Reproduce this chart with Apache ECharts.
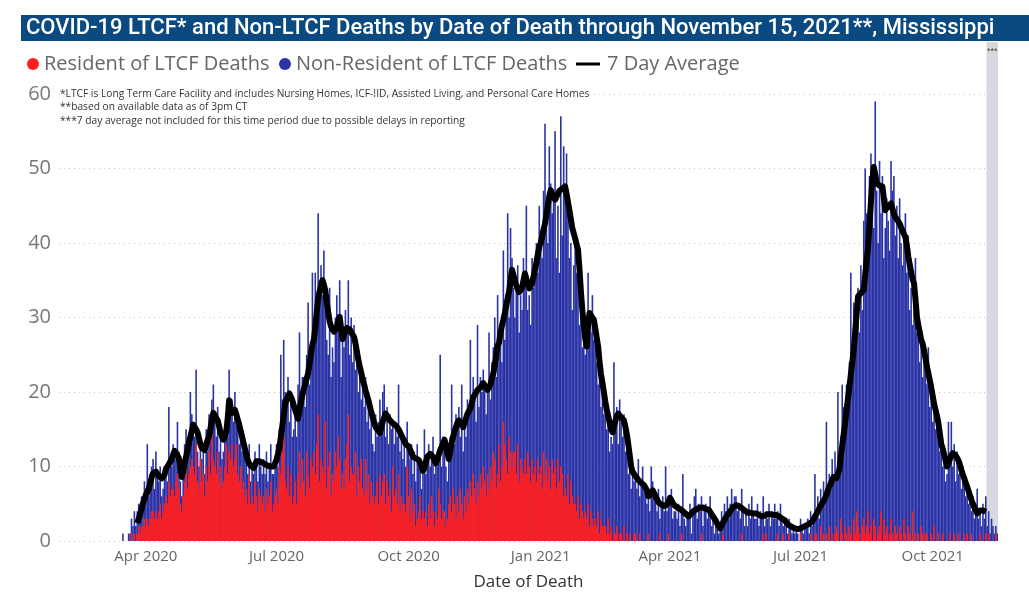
<!DOCTYPE html>
<html>
<head>
<meta charset="utf-8">
<script src="https://cdn.jsdelivr.net/npm/echarts@6/dist/echarts.min.js"></script>
<style>
html, body { margin: 0; padding: 0; background: #fff; }
#chart { width: 1029px; height: 609px; }
</style>
</head>
<body>
<div id="chart"></div>
<script>
// axis runs Feb 1 2020 .. Nov 15 2021, data starts Mar 16 2020
var axisStart = Date.UTC(2020, 1, 1);
var axisDays = 654;
var dataOffset = 44;
var shadeFrom = '2021-11-08', shadeTo = '2021-11-15';
var monthNames = ['Jan','Feb','Mar','Apr','May','Jun','Jul','Aug','Sep','Oct','Nov','Dec'];
var yTicks = [0, 10, 20, 30, 40, 50, 60];

// daily deaths, one row per week (Mon..Sun) from Mar 16 2020
var totalDeaths = [
  1,0,0,0,1,1,3, 2,4,2,4,5,3,6, 5,8,7,13,6,9,10, 11,7,12,9,8,10,6,
  7,9,10,8,18,11,10, 13,12,11,16,12,8,6, 10,13,15,11,14,20,17, 16,14,23,12,10,14,11,
  13,9,15,12,17,14,19, 21,16,14,18,12,15,11, 12,15,17,14,23,18,19, 16,20,17,15,13,16,12,
  14,11,12,9,13,8,10, 9,12,11,8,13,10,9, 11,9,12,8,10,13,9, 9,11,13,10,15,25,19,
  27,20,18,22,16,19,14, 15,17,14,21,28,20,22, 22,18,25,32,21,26,36, 30,36,31,44,35,37,33,
  39,31,27,25,34,22,26, 24,30,33,29,35,22,27, 26,31,28,35,25,30,24, 29,23,27,20,24,19,21,
  18,22,16,20,15,17,13, 12,17,14,16,19,15,20, 21,14,18,13,17,15,16, 13,16,14,21,12,15,11,
  14,10,16,12,11,13,9, 12,8,13,10,11,7,9, 15,9,11,13,10,12,14, 9,11,10,12,25,10,14,
  13,10,8,12,14,21,15, 13,17,15,18,14,21,12, 16,14,19,17,27,18,22, 19,16,29,18,22,20,23,
  21,17,20,28,19,24,26, 30,22,33,26,29,24,39, 27,33,44,30,42,38,34, 30,35,37,28,33,31,38,
  36,45,31,33,29,38,34, 35,40,36,45,41,38,47, 56,42,40,53,48,44,46, 55,38,45,36,57,41,53,
  46,52,44,38,40,31,37, 41,36,39,29,33,26,28, 25,27,36,31,28,33,27, 30,24,21,26,18,22,17,
  19,15,17,12,14,13,24, 15,18,13,19,16,14,17, 12,14,9,11,7,10,8, 9,7,11,6,8,10,7,
  7,5,6,4,10,8,6, 6,4,7,3,5,6,4, 10,4,6,5,7,3,4, 4,3,5,2,4,9,3,
  2,4,3,5,1,4,6, 7,3,5,4,6,2,4, 5,3,4,6,2,3,1, 2,3,1,2,4,3,5,
  4,6,3,5,7,4,6, 6,4,5,3,7,4,2, 4,2,5,3,6,4,3, 3,5,2,4,3,6,2,
  4,3,5,2,4,3,5, 3,4,2,5,3,2,3, 2,1,3,2,1,2,1, 2,1,0,3,2,1,2,
  2,3,1,4,2,3,9, 4,6,3,7,5,8,6, 16,6,9,7,11,8,12, 9,20,12,14,21,18,17,
  21,17,24,36,22,32,27, 30,34,28,37,31,43,50, 44,38,49,52,46,42,59, 47,40,51,44,49,38,42,
  46,43,39,51,47,49,41, 45,38,46,40,37,42,44, 36,41,31,34,29,32,38, 28,31,24,27,22,26,25,
  21,26,18,22,16,19,15, 16,14,12,15,10,11,8, 9,16,11,16,10,13,8, 12,9,11,7,10,8,6,
  8,5,7,4,6,3,5, 7,3,4,2,5,3,6, 2,4,1,3,2,1,2, 1
];

var ltcfDeaths = [
  0,0,0,0,0,0,1, 0,1,0,1,2,1,2, 2,3,2,3,2,3,4, 4,3,4,3,4,5,3,
  4,5,6,5,8,6,7, 7,6,8,9,7,5,4, 6,8,12,7,9,10,11, 10,9,13,8,7,11,8,
  9,6,10,8,12,9,15, 11,10,9,12,8,10,7, 8,10,13,9,12,11,13, 10,11,13,9,8,10,7,
  8,6,7,5,9,5,6, 5,8,6,4,7,6,5, 6,4,7,5,6,8,4, 5,6,7,5,10,9,12,
  14,8,7,10,6,9,5, 6,8,5,9,12,7,11, 8,6,12,9,7,11,10, 12,9,13,17,8,11,10,
  9,16,7,10,12,6,9, 8,12,10,14,11,7,9, 7,11,13,17,8,10,9, 9,12,6,10,8,11,7,
  6,11,7,9,5,8,6, 5,6,8,5,9,6,8, 9,5,8,6,7,4,10, 6,7,5,9,4,6,5,
  5,4,10,6,3,7,4, 5,2,3,4,6,3,4, 3,4,2,5,3,6,4, 2,4,3,7,5,3,4,
  4,2,3,5,6,4,7, 5,3,6,4,7,5,3, 6,4,7,5,8,6,9, 7,5,8,6,9,7,10,
  8,6,9,7,10,8,12, 11,7,9,13,8,10,16, 13,11,9,14,12,10,12, 12,9,13,8,11,10,9,
  11,9,12,10,8,11,9, 10,8,11,9,10,7,12, 9,11,8,10,7,11,9, 10,7,11,8,10,9,6,
  7,6,9,5,8,6,5, 5,4,6,3,5,4,3, 4,3,5,2,4,3,2, 3,2,4,1,3,2,2,
  2,1,3,1,2,0,1, 1,2,0,1,1,0,2, 0,1,0,1,0,0,1, 1,0,0,1,0,0,0,
  0,0,1,0,0,0,0, 0,0,0,1,0,0,0, 0,0,1,0,0,0,0, 0,0,0,0,1,0,0,
  0,0,0,0,0,0,0, 0,0,0,0,1,0,0, 0,0,0,0,0,0,0, 0,0,0,0,0,1,0,
  0,0,0,0,0,0,0, 0,0,0,0,1,0,0, 0,0,0,0,0,0,0, 0,0,0,0,0,1,0,
  1,0,0,0,0,0,0, 0,1,0,0,0,1,0, 0,0,1,0,0,0,0, 0,0,0,1,0,0,0,
  0,0,0,1,0,0,1, 1,0,0,2,0,1,0, 1,0,2,0,1,0,1, 2,1,0,3,1,0,2,
  1,0,2,1,0,3,1, 4,2,1,0,2,3,1, 2,4,1,2,0,3,2, 0,1,2,4,0,3,1,
  2,0,1,3,1,0,2, 1,0,2,1,0,3,1, 0,2,1,0,4,0,1, 0,1,0,2,1,0,1,
  1,0,0,1,0,2,0, 0,1,0,0,1,0,0, 0,0,1,0,0,1,0, 0,1,0,0,0,1,0,
  1,0,0,1,0,0,0, 0,0,1,0,0,0,1, 0,1,0,0,0,0,1, 0
];

// 7 day average, not shown for the first days and the last 8 days
var avg7 = [
  null,null,null,null,null,null,null,null,null,null,
  2.4,3.0,3.6,4.3,5.1,5.6,6.2,6.6,7.0,7.8,
  8.5,9.1,9.2,9.3,9.0,8.7,8.6,8.4,8.2,8.9,
  9.7,10.0,10.3,10.5,11.0,11.6,12.1,12.0,11.5,11.1,
  10.0,8.6,9.4,10.5,11.3,12.2,13.2,14.0,14.8,15.6,
  15.4,15.0,14.6,13.8,13.0,12.5,12.3,12.2,12.9,13.6,
  14.0,15.1,16.3,17.2,16.9,16.5,16.2,15.4,14.6,14.0,
  13.6,14.0,14.7,16.5,18.9,18.0,17.2,17.4,17.6,17.0,
  16.3,15.6,14.8,14.0,13.2,12.4,11.6,10.8,10.4,10.1,
  9.9,9.8,10.2,10.7,10.8,10.7,10.6,10.5,10.4,10.3,
  10.2,10.1,10.0,10.0,10.0,10.0,10.0,10.9,11.7,12.6,
  13.9,15.4,16.9,18.4,19.0,19.4,19.8,19.6,18.9,18.2,
  17.6,17.0,16.4,17.6,18.6,19.6,20.4,21.1,21.8,22.5,
  23.8,25.1,26.4,27.0,28.6,30.7,32.6,33.5,34.3,35.0,
  34.4,33.6,32.0,30.7,29.5,28.8,28.4,28.1,27.9,28.7,
  29.5,30.1,28.5,27.1,27.6,28.2,28.6,28.8,28.4,28.0,
  27.7,27.4,26.5,25.4,24.3,23.4,22.6,21.6,21.0,20.2,
  19.5,18.9,18.1,17.3,16.6,15.9,15.3,15.0,14.8,14.5,
  15.3,16.0,16.6,17.1,16.8,16.5,16.2,16.0,15.8,15.6,
  15.5,15.3,15.0,14.6,14.2,13.8,13.4,13.0,12.8,12.7,
  12.3,11.8,11.3,11.2,11.1,11.0,10.9,10.5,10.0,9.4,
  9.8,10.6,11.3,11.5,11.7,11.8,11.3,10.8,10.4,11.0,
  11.6,12.2,12.6,13.1,13.6,12.8,11.9,11.0,12.1,13.2,
  14.0,14.7,15.3,15.9,16.2,15.9,15.6,15.3,15.9,16.5,
  17.1,17.1,17.8,18.5,19.3,19.6,19.9,20.3,20.3,20.6,
  20.9,21.2,20.9,20.6,20.3,20.3,21.0,21.8,22.5,23.6,
  24.9,26.2,26.6,28.0,28.9,29.7,30.6,31.6,32.6,33.5,
  35.0,36.4,35.7,34.9,34.3,33.8,33.4,33.2,34.0,35.0,
  35.9,35.2,34.5,33.9,33.7,34.6,35.5,36.4,37.4,38.5,
  39.5,40.0,40.9,41.8,42.6,43.8,45.1,46.3,47.1,46.6,
  46.2,45.8,46.2,46.6,47.0,47.1,47.3,47.4,47.6,46.6,
  45.5,44.4,43.2,42.0,41.3,40.6,39.8,39.1,36.5,33.5,
  31.0,29.0,27.2,26.1,29.0,30.6,30.3,30.0,29.7,28.6,
  27.3,26.1,24.0,22.4,21.2,20.0,18.7,17.6,16.8,15.9,
  15.0,14.6,15.4,16.1,16.8,17.1,16.9,16.6,16.4,16.2,
  15.3,14.3,13.0,11.5,10.0,9.3,9.0,8.7,8.5,8.2,
  8.0,7.8,7.6,7.5,7.3,6.8,6.0,6.2,6.5,6.8,
  6.4,6.0,5.6,5.2,5.0,4.9,4.8,4.7,4.6,4.9,
  5.3,5.8,5.5,5.1,4.8,4.6,4.5,4.4,4.3,4.2,
  4.0,3.8,3.6,3.4,3.3,3.5,3.7,3.9,4.1,4.2,
  4.3,4.4,4.5,4.6,4.5,4.4,4.3,4.3,4.2,3.9,
  3.6,3.3,3.0,2.7,2.3,2.0,1.7,2.1,2.5,2.8,
  3.2,3.4,3.7,4.0,4.2,4.5,4.7,4.8,4.9,4.7,
  4.5,4.4,4.3,4.1,3.9,3.8,3.7,3.8,3.8,3.7,
  3.7,3.7,3.6,3.5,3.4,3.3,3.3,3.4,3.5,3.6,
  3.7,3.6,3.6,3.5,3.5,3.5,3.4,3.3,3.2,3.0,
  2.9,2.8,2.5,2.3,2.1,2.0,1.9,1.8,1.7,1.6,
  1.6,1.7,1.7,1.8,1.9,2.0,2.1,2.2,2.3,2.4,
  2.6,2.9,3.3,3.6,4.0,4.4,4.7,5.1,5.4,5.7,
  6.2,6.8,7.3,7.7,8.2,8.6,8.6,8.4,8.2,9.6,
  11.3,12.8,14.3,15.8,17.5,19.1,20.7,22.3,24.0,25.6,
  28.0,30.4,32.8,33.0,33.3,33.5,33.7,35.7,37.6,39.5,
  42.5,45.5,48.5,50.2,49.2,48.0,47.9,47.7,47.6,47.6,
  46.0,44.4,44.7,45.0,45.2,45.3,44.6,43.9,43.5,43.2,
  42.9,42.6,42.1,41.6,41.2,40.8,39.7,38.2,37.1,36.1,
  35.1,34.6,32.5,30.1,29.0,28.0,27.0,26.5,25.6,24.5,
  23.4,22.5,21.6,20.6,19.5,18.4,17.6,16.8,15.8,14.4,
  13.0,12.4,11.6,10.8,10.0,10.5,11.0,11.5,11.8,11.7,
  11.5,11.3,10.8,10.2,9.5,8.9,8.4,7.8,7.3,6.7,
  6.1,5.5,5.0,4.5,4.1,3.7,3.9,4.1,4.2,4.1,
  4.0,3.9,null,null,null,null,null,null,null,null
];

var dates = [];
for (var d = 0; d < axisDays; d++) {
  dates.push(new Date(axisStart + d * 86400000).toISOString().slice(0, 10));
}
function onAxis(arr) {
  var out = [];
  for (var k = 0; k < dataOffset; k++) out.push(null);
  return out.concat(arr);
}

var uiFont = "'Segoe UI', 'Open Sans', sans-serif";
var myChart = echarts.init(document.getElementById('chart'));

var option = {
  backgroundColor: '#fff',
  animation: false,
  grid: { left: 59, right: 31, top: 94, bottom: 68 },
  xAxis: {
    type: 'category',
    data: dates,
    boundaryGap: true,
    axisLine: { show: false },
    axisTick: { show: false },
    axisLabel: {
      color: '#666',
      fontSize: 15,
      fontFamily: uiFont,
      margin: 8,
      interval: function (idx, val) {
        return val.slice(8) === '01' && ['01', '04', '07', '10'].indexOf(val.slice(5, 7)) >= 0;
      },
      formatter: function (val) {
        return monthNames[+val.slice(5, 7) - 1] + ' ' + val.slice(0, 4);
      }
    },
    name: 'Date of Death',
    nameLocation: 'middle',
    nameGap: 33,
    nameTextStyle: { color: '#333', fontSize: 17, fontFamily: uiFont }
  },
  yAxis: {
    type: 'value',
    min: yTicks[0],
    max: yTicks[yTicks.length - 1],
    interval: 10,
    axisLine: { show: false },
    axisTick: { show: false },
    axisLabel: { color: '#777', fontSize: 20, fontFamily: uiFont, margin: 8 },
    splitLine: { lineStyle: { type: [1, 4], color: '#c8c8c8' } }
  },
  series: [
    {
      name: 'Non-Resident of LTCF Deaths',
      type: 'bar',
      data: onAxis(totalDeaths),
      barWidth: 1.6,
      barGap: '-100%',
      itemStyle: { color: '#2a33a6' },
      z: 2
    },
    {
      name: 'Resident of LTCF Deaths',
      type: 'bar',
      data: onAxis(ltcfDeaths),
      barWidth: 1.6,
      barGap: '-100%',
      itemStyle: { color: '#ff1e1e' },
      z: 3
    },
    {
      name: '7 Day Average',
      type: 'line',
      data: onAxis(avg7),
      showSymbol: false,
      connectNulls: false,
      lineStyle: { color: '#000', width: 6, join: 'round' },
      itemStyle: { color: '#000' },
      z: 5
    }
  ],
  graphic: [
    { type: 'rect', shape: { x: 21, y: 15, width: 1008, height: 26 }, style: { fill: '#0b4a80' } },
    {
      type: 'text', x: 26, y: 28,
      style: {
        text: 'COVID-19 LTCF* and Non-LTCF Deaths by Date of Death through November 15, 2021**, Mississippi',
        fill: '#fff', font: '500 22px Roboto, sans-serif', verticalAlign: 'middle'
      }
    },
    { type: 'circle', shape: { cx: 33, cy: 64, r: 6 }, style: { fill: '#ff1e1e' } },
    { type: 'text', x: 44, y: 64, style: { text: 'Resident of LTCF Deaths', fill: '#666', font: "20px 'Segoe UI', 'Open Sans', sans-serif", verticalAlign: 'middle' } },
    { type: 'circle', shape: { cx: 285, cy: 64, r: 6 }, style: { fill: '#2a33a6' } },
    { type: 'text', x: 296, y: 64, style: { text: 'Non-Resident of LTCF Deaths', fill: '#666', font: "20px 'Segoe UI', 'Open Sans', sans-serif", verticalAlign: 'middle' } },
    { type: 'line', shape: { x1: 576, y1: 64, x2: 600, y2: 64 }, style: { stroke: '#000', lineWidth: 3 } },
    { type: 'text', x: 607, y: 64, style: { text: '7 Day Average', fill: '#666', font: "20px 'Segoe UI', 'Open Sans', sans-serif", verticalAlign: 'middle' } },
    { type: 'text', x: 60, y: 94, style: { text: '*LTCF is Long Term Care Facility and includes Nursing Homes, ICF-IID, Assisted Living, and Personal Care Homes', fill: '#333', font: "10.2px 'Segoe UI', 'Open Sans', sans-serif", verticalAlign: 'middle' } },
    { type: 'text', x: 60, y: 107, style: { text: '**based on available data as of 3pm CT', fill: '#333', font: "10.2px 'Segoe UI', 'Open Sans', sans-serif", verticalAlign: 'middle' } },
    { type: 'text', x: 60, y: 121, style: { text: '***7 day average not included for this time period due to possible delays in reporting', fill: '#333', font: "10.2px 'Segoe UI', 'Open Sans', sans-serif", verticalAlign: 'middle' } }
  ]
};
myChart.setOption(option);

// shaded band for the last days (no 7 day average), placed from the axis scale
var bandX0 = myChart.convertToPixel({ xAxisIndex: 0 }, shadeFrom);
var bandX1 = myChart.convertToPixel({ xAxisIndex: 0 }, shadeTo);
var catW = myChart.convertToPixel({ xAxisIndex: 0 }, dates[1]) - myChart.convertToPixel({ xAxisIndex: 0 }, dates[0]);
var yBase = myChart.convertToPixel({ yAxisIndex: 0 }, 0);
var bandLeft = bandX0 - catW / 2, bandRight = bandX1 + catW / 2;
option.graphic.push(
  { type: 'rect', z: 1, shape: { x: bandLeft, y: 42, width: bandRight - bandLeft, height: yBase - 42 }, style: { fill: 'rgba(200,200,210,0.7)' } },
  { type: 'text', z: 6, x: (bandLeft + bandRight) / 2, y: 52, style: { text: '***', fill: '#444', font: '9px sans-serif', align: 'center', verticalAlign: 'middle' } }
);
myChart.setOption({ graphic: option.graphic });
</script>
</body>
</html>
